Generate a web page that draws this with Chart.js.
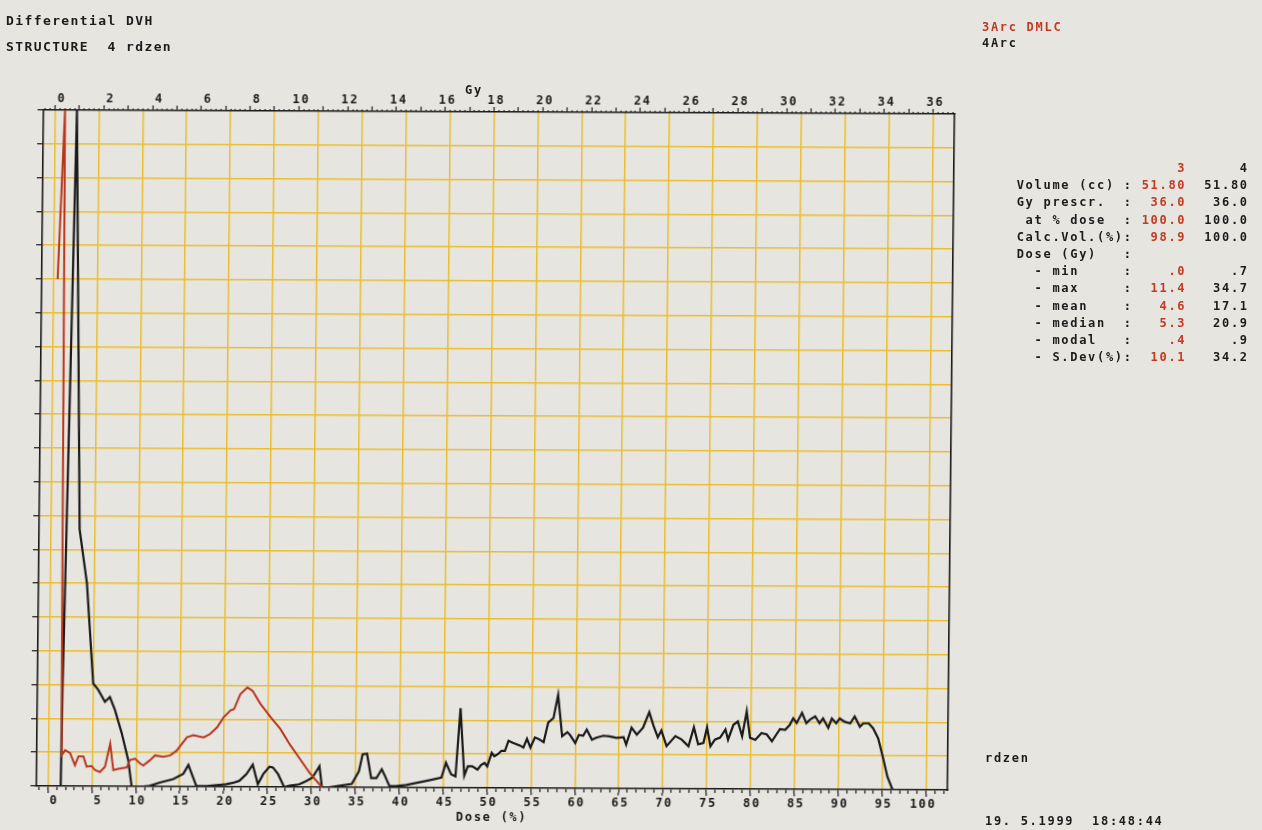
<!DOCTYPE html>
<html>
<head>
<meta charset="utf-8">
<title>Differential DVH</title>
<script src="https://cdn.jsdelivr.net/npm/chart.js@4.4.0/dist/chart.umd.min.js"></script>
<style>
  html, body { margin: 0; padding: 0; width: 1262px; height: 830px; overflow: hidden; background: #e7e5e0; }
  #sheet { position: absolute; left: 0; top: 0; width: 1262px; height: 830px;
           transform-origin: 495px 450px; transform: skewY(0.25deg) skewX(-0.6deg); }
  canvas { display: block; }
  .t { position: absolute; font-family: "DejaVu Sans Mono", monospace; font-weight: bold;
       font-size: 12px; letter-spacing: 1.7px; line-height: 14px; white-space: pre; color: #1c1c1c; }
  .big { font-size: 13px; letter-spacing: 1.4px; }
  .r { color: #c23b22; }
</style>
</head>
<body>
<div id="sheet"><canvas id="dvh" width="1262" height="830"></canvas></div>
<div id="notes"></div>
<script>
// Structure rdzen, dose bins in % of prescription (36 Gy = 100 %), relative volume per bin
const doseRed = [0.5, 1.14, 1.47, 1.54, 1.91, 2.48, 3.05, 3.43, 4.0, 4.38, 4.95, 5.33, 5.9, 6.47, 7.04, 7.42,
  7.98, 8.94, 9.32, 9.89, 10.46, 10.83, 11.6, 12.16, 13.1, 13.87, 14.6, 15.77, 16.5, 17.67, 18.4, 19.2,
  19.94, 20.7, 21.1, 21.8, 22.6, 23.2, 24.1, 25.3, 26.4, 27.5, 28.7, 29.8, 31.2];
const volRed = [75, 100, 11, 4.6, 5.3, 4.9, 3.1, 4.4, 4.4, 2.9, 3.0, 2.4, 2.1, 2.9, 6.3, 2.4,
  2.6, 2.8, 3.9, 4.1, 3.4, 3.1, 3.9, 4.6, 4.4, 4.6, 5.3, 7.3, 7.6, 7.3, 7.8, 8.8,
  10.3, 11.3, 11.5, 13.7, 14.7, 14.2, 12.3, 10.3, 8.6, 6.3, 4.1, 2.1, 0];

const doseBlack = [1.45, 1.55, 2.5, 3.3, 4.2, 5.03, 5.6, 6.39, 6.95, 7.54, 8.33, 9.11, 9.53, 10.85,
  11.6, 12.75, 14.26, 15.4, 15.97, 16.9, 18.05, 19.56, 20.3, 21.1, 21.8, 22.6, 23.3, 23.9, 24.5, 25.2,
  25.6, 26.2, 26.9, 27.5, 28.6, 29.4, 30.1, 30.9, 31.2, 32.0, 33.1, 34.6, 35.4, 35.8, 36.3, 36.8, 37.4,
  38.0, 38.3, 38.9, 39.6, 40.8, 42.3, 43.4, 44.8, 45.3, 45.9, 46.4, 46.9, 47.4, 47.8, 48.3, 48.9, 49.3,
  49.7, 50.0, 50.5, 50.8, 51.2, 51.6, 52.0, 52.4, 52.9, 53.7, 54.1, 54.5, 54.9, 55.4, 55.8, 56.4, 56.9,
  57.5, 58.0, 58.5, 59.1, 59.4, 60.0, 60.4, 60.9, 61.3, 61.9, 62.4, 63.2, 63.9, 64.7, 65.5, 65.8, 66.4,
  67.0, 67.7, 68.4, 68.9, 69.4, 69.8, 70.4, 71.4, 72.1, 72.9, 73.5, 74.0, 74.6, 75.0, 75.4, 75.9, 76.5,
  77.1, 77.4, 78.0, 78.5, 79.0, 79.5, 79.9, 80.5, 81.2, 81.8, 82.4, 82.9, 83.3, 83.9, 84.4, 84.8, 85.2,
  85.8, 86.3, 86.7, 87.3, 87.8, 88.2, 88.8, 89.2, 89.7, 90.1, 90.7, 91.3, 91.8, 92.4, 92.8, 93.4, 93.9,
  94.5, 95.1, 95.6, 96.2];
const volBlack = [0, 15, 100, 38, 30, 15.2, 14.3, 12.5, 13.2, 11.3, 7.9, 3.9, 0, 0,
  0.1, 0.6, 1.1, 1.9, 3.2, 0.1, 0.1, 0.3, 0.4, 0.6, 0.9, 1.9, 3.3, 0.4, 1.9, 3.0,
  2.9, 1.9, 0, 0.2, 0.4, 0.9, 1.4, 3.1, 0, 0, 0.2, 0.5, 2.4, 4.9, 5.0, 1.4, 1.4,
  2.7, 1.9, 0.2, 0.2, 0.4, 0.8, 1.1, 1.5, 3.7, 2.0, 1.7, 11.8, 1.8, 3.2, 3.2, 2.7, 3.4,
  3.7, 3.2, 5.2, 4.7, 5.0, 5.5, 5.5, 7.0, 6.7, 6.3, 6.0, 7.3, 6.0, 7.5, 7.3, 6.8, 9.7,
  10.4, 13.8, 7.7, 8.3, 7.9, 6.7, 7.9, 7.8, 8.7, 7.2, 7.5, 7.8, 7.7, 7.5, 7.6, 6.5, 9.0,
  8.0, 9.0, 11.3, 9.3, 7.6, 8.6, 6.3, 7.8, 7.3, 6.3, 9.1, 6.6, 6.8, 9.1, 6.3, 7.3, 7.6,
  8.8, 7.3, 9.5, 10.0, 7.8, 11.5, 7.6, 7.3, 8.3, 8.1, 7.1, 8.1, 8.9, 8.8, 9.5, 10.5, 9.8,
  11.3, 9.8, 10.3, 10.8, 9.8, 10.5, 9.1, 10.5, 9.8, 10.5, 10.0, 9.8, 10.8, 9.3, 9.8, 9.8, 9.1,
  7.6, 4.6, 1.9, 0];

// Axis tick values
const doseTicks = [0, 5, 10, 15, 20, 25, 30, 35, 40, 45, 50, 55, 60, 65, 70, 75, 80, 85, 90, 95, 100];
const gyTicks = [0, 2, 4, 6, 8, 10, 12, 14, 16, 18, 20, 22, 24, 26, 28, 30, 32, 34, 36];
const volumeTicks = [0, 5, 10, 15, 20, 25, 30, 35, 40, 45, 50, 55, 60, 65, 70, 75, 80, 85, 90, 95, 100];

// Plan statistics (plan 3 in red, plan 4 in black)
const planNames = ['3Arc DMLC', '4Arc'];
const statLabels = ['Volume (cc)', 'Gy prescr.', ' at % dose', 'Calc.Vol.(%)', 'Dose (Gy)',
  '  - min', '  - max', '  - mean', '  - median', '  - modal', '  - S.Dev(%)'];
const stat3 = ['51.80', '36.0', '100.0', '98.9', '', '.0', '11.4', '4.6', '5.3', '.4', '10.1'];
const stat4 = ['51.80', '36.0', '100.0', '100.0', '', '.7', '34.7', '17.1', '20.9', '.9', '34.2'];

const GY_PER_PERCENT = 36 / 100;
const X_MIN = -1.31, X_MAX = 102.45;
const INK = '#1a1a1a';
const RED = '#b8361d';
const GRID = '#eabd30';

Chart.defaults.font.family = '"DejaVu Sans Mono", monospace';
Chart.defaults.font.size = 12;
Chart.defaults.font.weight = 'bold';
Chart.defaults.font.lineHeight = 1;
Chart.defaults.color = INK;

const range = (a, b, s) => { const out = []; for (let i = 0; a + i * s <= b + 1e-9; i++) out.push(+(a + i * s).toFixed(2)); return out; };
const setTicks = vals => s => { s.ticks = vals.map(v => ({ value: v })); };
const fixH = h => s => { s.height = h; };
const fixW = w => s => { s.width = w; };

const penSpacing = {
  id: 'penSpacing',
  beforeLayout(chart) { chart.ctx.letterSpacing = '1.7px'; },
  beforeDraw(chart) { chart.ctx.letterSpacing = '1.7px'; }
};

const pts = (xs, ys) => xs.map((x, i) => ({ x, y: ys[i] }));

new Chart(document.getElementById('dvh'), {
  type: 'line',
  data: {
    datasets: [
      { label: planNames[0], data: pts(doseRed, volRed), borderColor: RED, borderWidth: 2, pointRadius: 0, tension: 0 },
      { label: planNames[1], data: pts(doseBlack, volBlack), borderColor: INK, borderWidth: 2.2, pointRadius: 0, tension: 0 }
    ]
  },
  options: {
    responsive: false,
    animation: false,
    events: [],
    layout: { padding: { left: 34, right: 311, top: 90, bottom: 0 } },
    plugins: { legend: { display: false }, tooltip: { enabled: false } },
    scales: {
      x: {
        type: 'linear', position: 'bottom', weight: 0, bounds: 'data', min: X_MIN, max: X_MAX,
        afterBuildTicks: setTicks(range(-1, 102, 1)),
        ticks: { display: false },
        grid: { drawOnChartArea: false, tickLength: 4, tickColor: INK, tickWidth: 1.2 },
        border: { display: true, color: INK, width: 1.6 },
        afterFit: fixH(4)
      },
      xDose: {
        type: 'linear', position: 'bottom', weight: 1, bounds: 'data', min: X_MIN, max: X_MAX,
        afterBuildTicks: setTicks(doseTicks),
        ticks: { autoSkip: false, maxRotation: 0, align: 'end', labelOffset: 10.7, padding: 2, color: INK },
        grid: { color: GRID, lineWidth: 1.5, tickLength: 3, tickColor: INK, tickWidth: 1.2 },
        border: { display: false },
        title: { display: true, text: 'Dose (%)', color: INK, padding: { top: 0, bottom: 6 } },
        afterFit: fixH(38)
      },
      xGyFine: {
        type: 'linear', position: 'top', weight: 0, bounds: 'data',
        min: X_MIN * GY_PER_PERCENT, max: X_MAX * GY_PER_PERCENT,
        afterBuildTicks: setTicks(range(-0.4, 36.8, 0.2)),
        ticks: { display: false },
        grid: { drawOnChartArea: false, tickLength: 2, tickColor: INK, tickWidth: 1.1 },
        border: { display: true, color: INK, width: 1.6 },
        afterFit: fixH(2)
      },
      xGy: {
        type: 'linear', position: 'top', weight: 1, bounds: 'data',
        min: X_MIN * GY_PER_PERCENT, max: X_MAX * GY_PER_PERCENT,
        afterBuildTicks: setTicks(range(0, 36, 1)),
        ticks: {
          autoSkip: false, maxRotation: 0, align: 'end', labelOffset: 11.2, padding: 0, color: INK,
          callback: v => (gyTicks.includes(v) ? String(v) : '')
        },
        grid: { drawOnChartArea: false, tickLength: 3, tickColor: INK, tickWidth: 1.2 },
        border: { display: false },
        afterFit: fixH(20)
      },
      y: {
        type: 'linear', position: 'left', weight: 0, min: 0, max: 100,
        afterBuildTicks: setTicks(volumeTicks),
        ticks: { display: false },
        grid: {
          lineWidth: 1.5, tickLength: 6, tickWidth: 1.2, tickColor: INK,
          color: c => (c.tick.value === 0 || c.tick.value === 100) ? 'rgba(0,0,0,0)' : GRID
        },
        border: { display: true, color: INK, width: 1.6 },
        afterFit: fixW(6)
      },
      yRight: {
        type: 'linear', position: 'right', min: 0, max: 1,
        ticks: { display: false },
        grid: { display: false, drawTicks: false },
        border: { display: true, color: INK, width: 1.6 },
        afterFit: fixW(0)
      }
    }
  },
  plugins: [penSpacing]
});

// Page annotations around the plot
const notes = document.getElementById('notes');
function put(html, left, cy, cls) {
  const d = document.createElement('div');
  d.className = 't' + (cls ? ' ' + cls : '');
  d.style.left = left + 'px';
  d.style.top = (cy - 6.8) + 'px';
  d.innerHTML = html;
  notes.appendChild(d);
}
put('Differential DVH', 6, 21, 'big');
put('STRUCTURE  4 rdzen', 6, 46.5, 'big');
put('<span class="r">' + planNames[0] + '</span>', 982, 27);
put(planNames[1], 982, 42.5);
put('Gy', 465, 90);

const TABLE_X = 1016.7, HEAD_Y = 168, ROW0_Y = 185, ROW_DY = 17.2;
put(' '.repeat(18) + '<span class="r">3</span>' + '4'.padStart(7), TABLE_X, HEAD_Y);
statLabels.forEach((lab, i) => {
  const row = lab.padEnd(12) + ':' + '<span class="r">' + stat3[i].padStart(6) + '</span>' + stat4[i].padStart(7);
  put(row, TABLE_X, ROW0_Y + i * ROW_DY);
});
put('rdzen', 985, 757.5);
put('19. 5.1999  18:48:44', 985, 820.5);
</script>
</body>
</html>
